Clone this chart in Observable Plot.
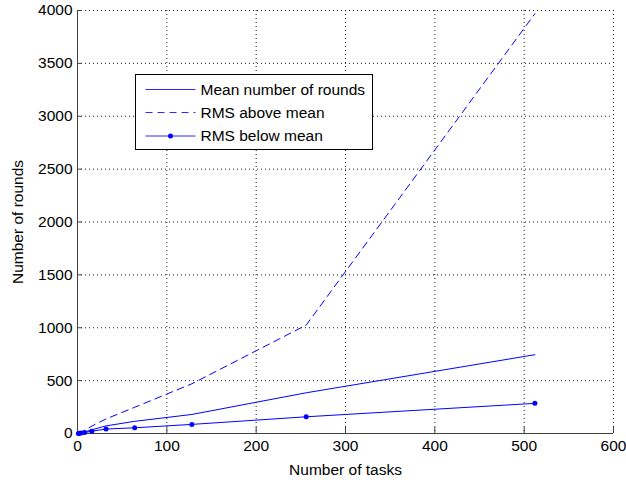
<!DOCTYPE html>
<html>
<head>
<meta charset="utf-8">
<script src="https://cdn.jsdelivr.net/npm/d3@7"></script>
<script src="https://cdn.jsdelivr.net/npm/@observablehq/plot@0.6"></script>
<style>
  html, body { margin: 0; padding: 0; background: #fff; }
  #chart svg { display: block; }
</style>
</head>
<body>
<div id="chart"></div>
<script>
// Number of tasks (powers of two) and the measured rounds statistics
const tasks = [1, 2, 4, 8, 16, 32, 64, 128, 256, 512];
const meanRounds = [1, 3, 7, 15, 35, 72, 115, 180, 385, 745];
const rmsAbove = [2, 5, 12, 30, 70, 138, 248, 470, 1025, 3970];
const rmsBelow = [1, 2, 4, 9, 22, 42, 54, 86, 158, 285];

const xTicks = [0, 100, 200, 300, 400, 500, 600];
const yTicks = [0, 500, 1000, 1500, 2000, 2500, 3000, 3500, 4000];

const seriesNames = ["Mean number of rounds", "RMS above mean", "RMS below mean"];

const rows = (ys) => tasks.map((t, i) => ({tasks: t, rounds: ys[i]}));
const meanData = rows(meanRounds);
const aboveData = rows(rmsAbove);
const belowData = rows(rmsBelow);

const blue = "#0000ff";
const legendBlue = "#2a2aff";
const gridStyle = {stroke: "#000", strokeOpacity: 0.9, strokeDasharray: "1,3"};
const axisColor = "#404040";

const chart = Plot.plot({
  width: 626,
  height: 482,
  marginLeft: 77,
  marginRight: 13,
  marginTop: 10,
  marginBottom: 49,
  style: {fontFamily: "'Liberation Sans', Arial, sans-serif", fontSize: "15.5px", background: "#fff", color: "#000"},
  x: {domain: [0, 600]},
  y: {domain: [0, 4000]},
  marks: [
    Plot.gridX(xTicks.slice(1), gridStyle),
    Plot.gridY(yTicks.slice(1), gridStyle),
    // tick marks pointing into the axes
    Plot.axisX(xTicks, {tickSize: 6, dy: -6, fill: "none", stroke: axisColor, label: null}),
    Plot.axisY(yTicks, {tickSize: 5, dx: 5, fill: "none", stroke: axisColor, label: null}),
    // tick labels and axis titles
    Plot.axisX(xTicks, {tickSize: 0, tickPadding: 6, tickFormat: d3.format("d"),
      label: "Number of tasks", labelAnchor: "center", labelArrow: "none", labelOffset: 41}),
    Plot.axisY(yTicks, {tickSize: 0, tickPadding: 5, tickFormat: d3.format("d"),
      label: "Number of rounds", labelAnchor: "center", labelArrow: "none", labelOffset: 66}),
    Plot.ruleX([0], {stroke: axisColor}),
    Plot.ruleY([0], {stroke: axisColor}),
    Plot.line(aboveData, {x: "tasks", y: "rounds", stroke: blue, strokeWidth: 1, strokeDasharray: "7,5"}),
    Plot.line(meanData, {x: "tasks", y: "rounds", stroke: blue, strokeWidth: 1}),
    Plot.line(belowData, {x: "tasks", y: "rounds", stroke: blue, strokeWidth: 1}),
    Plot.dot(belowData, {x: "tasks", y: "rounds", fill: blue, r: 2.5, stroke: "none"})
  ]
});

// Legend box in the upper-left part of the axes
const svg = d3.select(chart);
const legend = svg.append("g")
  .attr("transform", "translate(135.5,74.5)")
  .attr("font-family", "'Liberation Sans', Arial, sans-serif")
  .attr("font-size", "15.5px")
  .attr("text-anchor", "start");
legend.append("rect")
  .attr("width", 237).attr("height", 75)
  .attr("fill", "#fff").attr("stroke", "#000").attr("stroke-width", 1);
const rowY = [15, 38, 61.5];
const dashes = [null, "7,5", null];
seriesNames.forEach((name, i) => {
  const g = legend.append("g").attr("transform", `translate(0,${rowY[i]})`);
  g.append("line")
    .attr("x1", 10).attr("x2", 60).attr("y1", 0).attr("y2", 0)
    .attr("stroke", legendBlue).attr("stroke-width", 1)
    .attr("stroke-dasharray", dashes[i]);
  if (i === 2) g.append("circle").attr("cx", 35).attr("cy", 0).attr("r", 2.5).attr("fill", blue);
  g.append("text")
    .attr("x", 65).attr("y", 0).attr("dy", "0.35em")
    .attr("text-anchor", "start")
    .attr("fill", "#000")
    .text(name);
});

document.getElementById("chart").appendChild(chart);
</script>
</body>
</html>
